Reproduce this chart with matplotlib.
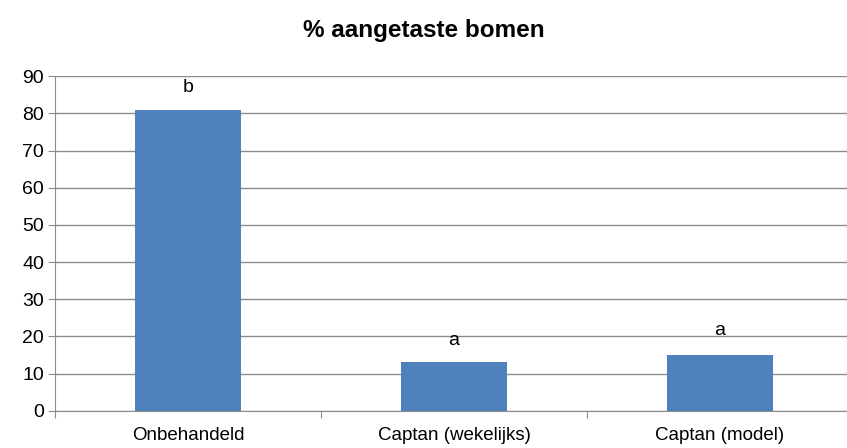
import numpy as np
import matplotlib.pyplot as plt
from matplotlib import font_manager

narrow = 'Liberation Sans Narrow'
names = {f.name for f in font_manager.fontManager.ttflist}
if narrow not in names:
    narrow = 'Liberation Sans'
plt.rcParams['font.family'] = [narrow, 'DejaVu Sans']

categories = ['Onbehandeld', 'Captan (wekelijks)', 'Captan (model)']
values = [81, 13, 15]
letters = ['b', 'a', 'a']
letter_y = [87, 19, 21.5]

fig = plt.figure(figsize=(8.47, 4.48), dpi=100)
ax = fig.add_axes([0.065, 0.083, 0.942, 0.747])

x = np.arange(len(categories))
ax.bar(x, values, width=0.4, color='#4F81BD', zorder=3)
for xi, t, yy in zip(x, letters, letter_y):
    ax.text(xi, yy, t, ha='center', va='center', fontsize=14, zorder=4)

ax.set_xlim(-0.5, 2.5)
ax.set_ylim(0, 90)
ax.set_yticks(range(0, 91, 10))
ax.yaxis.grid(True, color='#8c8c8c', linewidth=1, zorder=0)
ax.tick_params(axis='y', labelsize=14, length=5, color='#8c8c8c', pad=3)

ax.set_xticks([-0.5, 0.5, 1.5, 2.5])
ax.set_xticklabels([])
ax.set_xticks(x, minor=True)
ax.set_xticklabels(categories, minor=True, fontsize=13.5)
ax.tick_params(axis='x', which='major', length=5, color='#8c8c8c')
ax.tick_params(axis='x', which='minor', length=0, pad=12)

for side in ['top', 'right']:
    ax.spines[side].set_visible(False)
for side in ['left', 'bottom']:
    ax.spines[side].set_color('#8c8c8c')

fig.text(0.5, 0.932, '% aangetaste bomen', ha='center', va='center',
         fontsize=17.5, fontweight='bold')

fig.savefig('out.png', dpi=100)
